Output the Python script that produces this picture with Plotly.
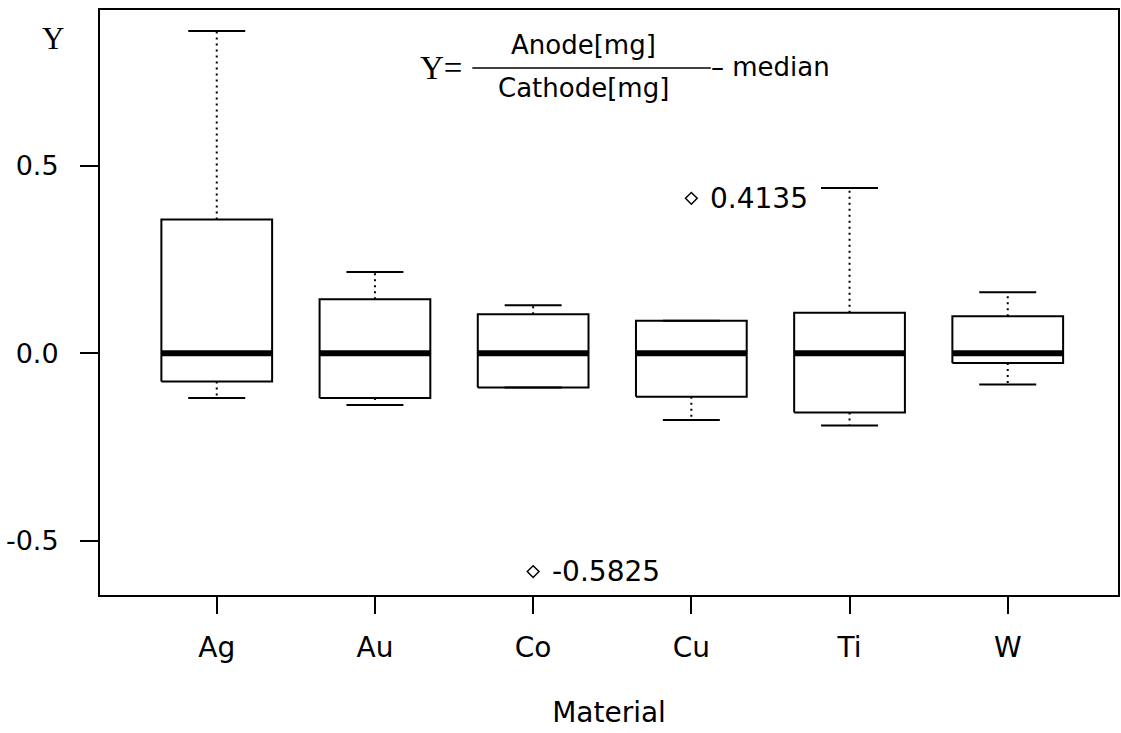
import plotly.graph_objects as go

# Box-plot summary per electrode material (Y = Anode/Cathode mass ratio minus median)
materials = ["Ag", "Au", "Co", "Cu", "Ti", "W"]
q1 = [-0.075, -0.119, -0.091, -0.116, -0.158, -0.026]
medians = [0.0, 0.0, 0.0, 0.0, 0.0, 0.0]
q3 = [0.357, 0.144, 0.104, 0.087, 0.108, 0.099]
lower_whisker = [-0.119, -0.138, -0.091, -0.178, -0.193, -0.083]
upper_whisker = [0.860, 0.217, 0.128, 0.087, 0.441, 0.163]

# Outlying observations: (material, value)
outlier_material = ["Co", "Cu"]
outlier_value = [-0.5825, 0.4135]

y_tick_values = [-0.5, 0.0, 0.5]
y_tick_text = ["-0.5", "0.0", "0.5"]

BOX_HALF = 0.35
CAP_HALF = 0.18
FONT = "DejaVu Sans, Arial, sans-serif"
SERIF = "Liberation Serif, Times New Roman, serif"

positions = list(range(len(materials)))

box_x, box_y = [], []
med_x, med_y = [], []
wh_x, wh_y = [], []
cap_x, cap_y = [], []
for p, lo, a, m, b, hi in zip(positions, lower_whisker, q1, medians, q3, upper_whisker):
    box_x += [p - BOX_HALF, p + BOX_HALF, p + BOX_HALF, p - BOX_HALF, p - BOX_HALF, None]
    box_y += [a, a, b, b, a, None]
    med_x += [p - BOX_HALF, p + BOX_HALF, None]
    med_y += [m, m, None]
    wh_x += [p, p, None, p, p, None]
    wh_y += [b, hi, None, a, lo, None]
    cap_x += [p - CAP_HALF, p + CAP_HALF, None, p - CAP_HALF, p + CAP_HALF, None]
    cap_y += [hi, hi, None, lo, lo, None]

fig = go.Figure()
fig.add_trace(go.Scatter(x=wh_x, y=wh_y, mode="lines",
                         line=dict(color="black", width=2, dash="2px,4px"),
                         hoverinfo="skip", showlegend=False))
fig.add_trace(go.Scatter(x=cap_x, y=cap_y, mode="lines",
                         line=dict(color="black", width=2),
                         hoverinfo="skip", showlegend=False))
fig.add_trace(go.Scatter(x=box_x, y=box_y, mode="lines",
                         line=dict(color="black", width=2),
                         hoverinfo="skip", showlegend=False))
fig.add_trace(go.Scatter(x=med_x, y=med_y, mode="lines",
                         line=dict(color="black", width=6),
                         hoverinfo="skip", showlegend=False))

out_x = [materials.index(m) for m in outlier_material]
fig.add_trace(go.Scatter(x=out_x, y=outlier_value, mode="markers",
                         marker=dict(symbol="diamond-open", size=9, color="black",
                                     line=dict(width=1.5)),
                         showlegend=False))

annotations = []
for xv, yv in zip(out_x, outlier_value):
    annotations.append(dict(x=xv, y=yv, xref="x", yref="y", text=f"{yv:.4f}",
                            showarrow=False, xanchor="left", yanchor="middle",
                            xshift=17, font=dict(family=FONT, size=28, color="black")))

# Corner "Y" label and formula header
annotations.append(dict(x=-0.046, y=0.952, xref="paper", yref="paper", text="Y",
                        showarrow=False, xanchor="center", yanchor="middle",
                        font=dict(family=SERIF, size=31, color="black")))
annotations.append(dict(x=0.335, y=0.901, xref="paper", yref="paper", text="Y=",
                        showarrow=False, xanchor="center", yanchor="middle",
                        font=dict(family=SERIF, size=33, color="black")))
annotations.append(dict(x=0.475, y=0.941, xref="paper", yref="paper", text="Anode[mg]",
                        showarrow=False, xanchor="center", yanchor="middle",
                        font=dict(family=FONT, size=26, color="black")))
annotations.append(dict(x=0.475, y=0.866, xref="paper", yref="paper", text="Cathode[mg]",
                        showarrow=False, xanchor="center", yanchor="middle",
                        font=dict(family=FONT, size=26, color="black")))
annotations.append(dict(x=0.598, y=0.903, xref="paper", yref="paper", text="– median",
                        showarrow=False, xanchor="left", yanchor="middle",
                        font=dict(family=FONT, size=26, color="black")))

fig.add_shape(type="line", xref="paper", yref="paper",
              x0=0.3657, x1=0.600, y0=0.9009, y1=0.9009,
              line=dict(color="black", width=1.5))

fig.update_layout(
    width=1121, height=733,
    margin=dict(l=100, r=1, t=10, b=138),
    plot_bgcolor="white", paper_bgcolor="white",
    font=dict(family=FONT, color="black"),
    annotations=annotations,
    showlegend=False,
)
fig.update_xaxes(
    range=[-0.738, 5.697],
    tickmode="array", tickvals=positions, ticktext=materials,
    ticks="outside", ticklen=17, tickwidth=2, tickcolor="black",
    tickfont=dict(family=FONT, size=28, color="black"),
    ticklabelstandoff=9,
    showline=True, linewidth=2, linecolor="black", mirror=True,
    showgrid=False, zeroline=False,
    title=dict(text="Material", font=dict(family=FONT, size=28, color="black"), standoff=40),
)
fig.update_yaxes(
    range=[-0.645, 0.916],
    tickmode="array", tickvals=y_tick_values, ticktext=y_tick_text,
    ticks="outside", ticklen=18, tickwidth=2, tickcolor="black",
    tickfont=dict(family=FONT, size=27, color="black"),
    ticklabelstandoff=16,
    showline=True, linewidth=2, linecolor="black", mirror=True,
    showgrid=False, zeroline=False,
)

fig.write_html("out.html")
